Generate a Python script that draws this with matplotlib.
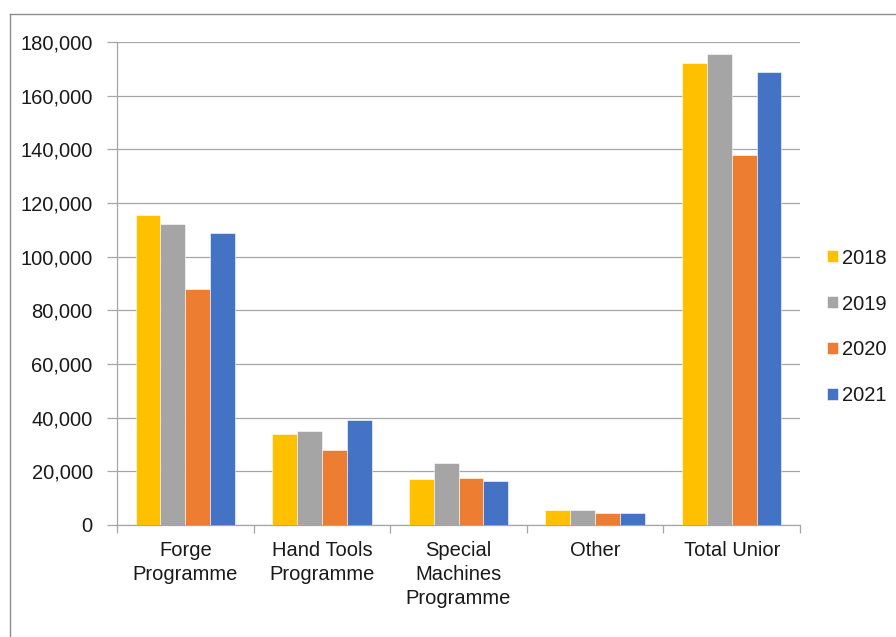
import matplotlib
matplotlib.use("Agg")
import matplotlib.pyplot as plt
import numpy as np
from matplotlib.lines import Line2D
from matplotlib.ticker import FuncFormatter, MultipleLocator

plt.rcParams['font.family'] = ['Liberation Sans', 'DejaVu Sans']

categories = ["Forge\nProgramme", "Hand Tools\nProgramme", "Special\nMachines\nProgramme",
              "Other", "Total Unior"]
years = ["2018", "2019", "2020", "2021"]
colors = ["#FFC000", "#A5A5A5", "#ED7D31", "#4472C4"]

v2018 = [115500, 34000, 17000, 5600, 172100]
v2019 = [112000, 35000, 23000, 5600, 175600]
v2020 = [88000, 28000, 17500, 4400, 137900]
v2021 = [109000, 39000, 16400, 4400, 168800]
series = [v2018, v2019, v2020, v2021]

text_color = "#1a1a1a"
line_color = "#a6a6a6"
fs = 14.5

fig = plt.figure(figsize=(8.96, 6.37), dpi=100)
ax = fig.add_axes([117 / 896, 1 - 525 / 637, (800 - 117) / 896, (525 - 42) / 637])

n = len(series)
bar_w = 1 / (n + 1.5)
x = np.arange(len(categories))
for i, (vals, col, yr) in enumerate(zip(series, colors, years)):
    offs = (i - (n - 1) / 2) * bar_w
    ax.bar(x + offs, vals, width=bar_w, color=col, label=yr,
           edgecolor="white", linewidth=0.4, zorder=3)

ax.set_xlim(-0.5, len(categories) - 0.5)
ax.set_ylim(0, 180000)
ax.yaxis.set_major_locator(MultipleLocator(20000))
ax.yaxis.set_major_formatter(FuncFormatter(lambda v, p: f"{int(v):,}"))
ax.grid(axis="y", color=line_color, linewidth=0.9, zorder=0)

for s in ["top", "right"]:
    ax.spines[s].set_visible(False)
for s in ["left", "bottom"]:
    ax.spines[s].set_color(line_color)
    ax.spines[s].set_linewidth(0.9)

ax.set_xticks(x)
ax.set_xticklabels(categories, fontsize=fs, color=text_color, linespacing=1.32, va="top")
ax.tick_params(axis="x", length=0, pad=11.5)
ax.set_xticks(np.arange(-0.5, len(categories)), minor=True)
ax.tick_params(axis="x", which="minor", length=6, color=line_color, width=0.9)
ax.tick_params(axis="y", length=7, color=line_color, width=0.9, labelsize=fs,
               labelcolor=text_color, pad=10.5)

leg = fig.legend(loc="center left", bbox_to_anchor=(827 / 896, 1 - 327 / 637),
                 frameon=False, fontsize=fs, handlelength=0.55, handleheight=0.55,
                 handletextpad=0.2, labelspacing=1.34, borderpad=0, borderaxespad=0)
for t in leg.get_texts():
    t.set_color(text_color)

# outer chart frame (top and left edges)
fig.add_artist(Line2D([10 / 896, 10 / 896], [0, 1 - 14 / 637], transform=fig.transFigure,
                      color="#8c8c8c", linewidth=1.0))
fig.add_artist(Line2D([10 / 896, 1], [1 - 14 / 637, 1 - 14 / 637], transform=fig.transFigure,
                      color="#8c8c8c", linewidth=1.0))

fig.savefig("out.png", dpi=100)
